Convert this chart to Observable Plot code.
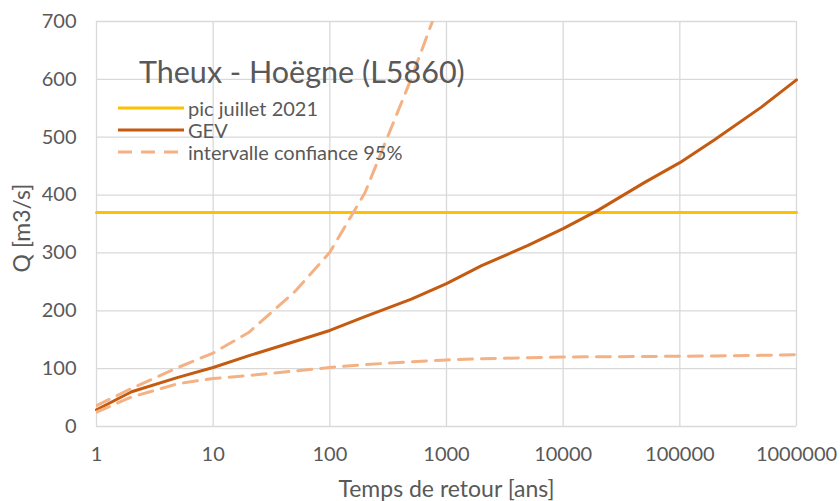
<!DOCTYPE html>
<html><head><meta charset="utf-8">
<script src="https://cdn.jsdelivr.net/npm/d3@7"></script>
<script src="https://cdn.jsdelivr.net/npm/@observablehq/plot@0.6"></script>
<style>
body{margin:0;background:#fff;}
#wrap{position:relative;width:840px;height:501px;font-family:Lato,sans-serif;color:#595959;}
#wrap svg.chart{position:absolute;left:0;top:0;}
.ttl{position:absolute;left:139px;top:54px;font-size:30.5px;line-height:34px;white-space:nowrap;}
.row{position:absolute;left:118px;height:22px;display:flex;align-items:center;font-size:20px;line-height:22px;white-space:nowrap;}
.row svg{margin-right:4px;display:block;}
</style></head>
<body>
<div id="wrap"></div>
<script>
// Data
const returnPeriods = [1,2,5,10,20,50,100,200,500,1000,2000,5000,10000,20000,50000,100000,200000,500000,1000000];
const gevQ         = [29,60,85,102,122,147,166,190,220,247,278,313,342,374,422,456,496,552,599];
const lowerQ       = [25,51,74,83,88,96,102,107,112,115,117,119,120,120.5,121,121.5,122,123,124];
const upperT       = [1,2,5,10,20,50,100,200,500,1000];
const upperQ       = [36,66,102,127,162,233,301,404,602,766];
const pic2021      = 370;
const xTicks       = [1,10,100,1000,10000,100000,1000000];
const yTicks       = [0,100,200,300,400,500,600,700];
const seriesNames  = ["pic juillet 2021","GEV","intervalle confiance 95%"];
const titleText    = "Theux - Hoëgne (L5860)";
const xLabel       = "Temps de retour [ans]";
const yLabel       = "Q [m3/s]";

const colPic = "#FFC000", colGev = "#C55A11", colCI = "#F4B183", colGrid = "#D9D9D9";

const gevData = returnPeriods.map((T,i)=>({T, Q:gevQ[i]}));
const lowData = returnPeriods.map((T,i)=>({T, Q:lowerQ[i]}));
const upData  = upperT.map((T,i)=>({T, Q:upperQ[i]}));
const picData = [{T:xTicks[0], Q:pic2021},{T:xTicks[xTicks.length-1], Q:pic2021}];

const chart = Plot.plot({
  width: 840, height: 501,
  marginLeft: 96, marginRight: 44, marginTop: 21, marginBottom: 75,
  x: {type: "log", domain: [1, 1000000], label: null},
  y: {domain: [0, 700], label: null},
  style: {fontFamily: "Lato, sans-serif", fontSize: "20px", color: "#595959", background: "white", overflow: "visible"},
  marks: [
    Plot.ruleX(xTicks, {stroke: colGrid, strokeWidth: 1.3}),
    Plot.ruleY(yTicks, {stroke: colGrid, strokeWidth: 1.3}),
    Plot.axisX(xTicks, {tickSize: 0, tickPadding: 20, tickFormat: d => String(d), label: null, fontSize: 20}),
    Plot.axisY(yTicks, {tickSize: 0, tickPadding: 20, tickFormat: d => String(d), label: null, fontSize: 20}),
    Plot.line(picData, {x: "T", y: "Q", stroke: colPic, strokeWidth: 3}),
    Plot.line(gevData, {x: "T", y: "Q", stroke: colGev, strokeWidth: 3}),
    Plot.line(upData, {x: "T", y: "Q", stroke: colCI, strokeWidth: 3, strokeDasharray: "14,9", clip: true}),
    Plot.line(lowData, {x: "T", y: "Q", stroke: colCI, strokeWidth: 3, strokeDasharray: "14,9", clip: true}),
    Plot.text([xLabel], {frameAnchor: "bottom", dy: 63, text: d => d, fontSize: 23, fill: "#595959", lineAnchor: "middle"}),
    Plot.text([yLabel], {frameAnchor: "left", dx: -74, dy: 4, rotate: -90, textAnchor: "middle", text: d => d, fontSize: 23, fill: "#595959", lineAnchor: "middle"})
  ]
});
chart.classList.add("chart");
const wrap = document.getElementById("wrap");
wrap.appendChild(chart);

// Legend overlay inside the plot area
const ttl = document.createElement("div");
ttl.className = "ttl"; ttl.textContent = titleText;
wrap.appendChild(ttl);
const styles = [
  {stroke: colPic, dash: null},
  {stroke: colGev, dash: null},
  {stroke: colCI, dash: "14,9"}
];
const rowTops = [97, 119, 141];
seriesNames.forEach((name, i) => {
  const row = document.createElement("div");
  row.className = "row";
  row.style.top = rowTops[i] + "px";
  const s = styles[i];
  row.innerHTML = `<svg width="66" height="22"><line x1="0" x2="66" y1="11" y2="11" stroke="${s.stroke}" stroke-width="3" ${s.dash ? `stroke-dasharray="${s.dash}"` : ""}/></svg><span></span>`;
  row.querySelector("span").textContent = name;
  wrap.appendChild(row);
});
</script>
</body></html>
